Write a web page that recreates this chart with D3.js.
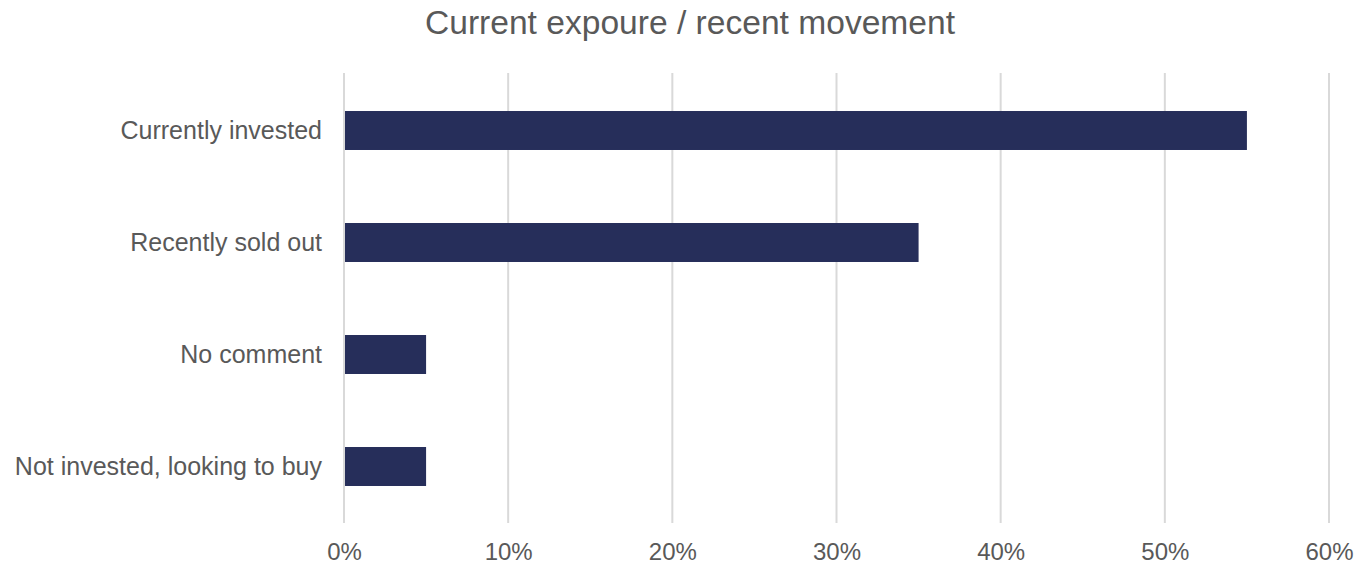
<!DOCTYPE html>
<html>
<head>
<meta charset="utf-8">
<script src="https://cdn.jsdelivr.net/npm/d3@7"></script>
<style>
  html, body { margin: 0; padding: 0; background: #ffffff; }
  svg { display: block; }
  text { font-family: "Liberation Sans", Arial, sans-serif; fill: #595959; }
</style>
</head>
<body>
<svg id="chart" width="1361" height="564"></svg>
<script>
// Survey responses: share of respondents per position
const categories = ["Currently invested", "Recently sold out", "No comment", "Not invested, looking to buy"];
const shares = [0.55, 0.35, 0.05, 0.05];
const tickValues = [0, 0.1, 0.2, 0.3, 0.4, 0.5, 0.6];
const chartTitle = "Current expoure / recent movement";

const svg = d3.select("#chart");

const plotTop = 73, plotBottom = 523;
const x = d3.scaleLinear().domain([0, 0.6]).range([344, 1329]);
const y = d3.scaleBand()
  .domain(categories)
  .range([74.5, 522.5])
  .paddingInner(0.652)
  .paddingOuter(0.326);

// Vertical gridlines
svg.append("g")
  .selectAll("line")
  .data(tickValues)
  .join("line")
  .attr("x1", d => x(d)).attr("x2", d => x(d))
  .attr("y1", plotTop).attr("y2", plotBottom)
  .attr("stroke", "#d9d9d9")
  .attr("stroke-width", 2);

// Bars
svg.append("g")
  .selectAll("rect")
  .data(categories.map((c, i) => ({ c, v: shares[i] })))
  .join("rect")
  .attr("x", x(0) + 1)
  .attr("y", d => y(d.c))
  .attr("width", d => x(d.v) - x(0) - 1)
  .attr("height", y.bandwidth())
  .attr("fill", "#262e5a");

// Bottom axis (labels only)
const xAxis = d3.axisBottom(x)
  .tickValues(tickValues)
  .tickFormat(d3.format(".0%"))
  .tickSize(0)
  .tickPadding(0);
const gx = svg.append("g").attr("transform", `translate(0,${plotBottom})`).call(xAxis);
gx.select(".domain").remove();
gx.selectAll("text")
  .attr("y", 37)
  .attr("dy", 0)
  .style("font-size", "24px")
  .style("font-family", "'Liberation Sans', Arial, sans-serif")
  .attr("fill", "#595959");

// Left axis (category labels)
const yAxis = d3.axisLeft(y).tickSize(0).tickPadding(0);
const gy = svg.append("g").attr("transform", `translate(322,0)`).call(yAxis);
gy.select(".domain").remove();
gy.selectAll("text")
  .attr("dy", "0.35em")
  .style("font-size", "25px")
  .style("font-family", "'Liberation Sans', Arial, sans-serif")
  .attr("fill", "#595959");

// Title
svg.append("text")
  .attr("x", 690)
  .attr("y", 34)
  .attr("text-anchor", "middle")
  .style("font-size", "33.6px")
  .text(chartTitle);
</script>
</body>
</html>
